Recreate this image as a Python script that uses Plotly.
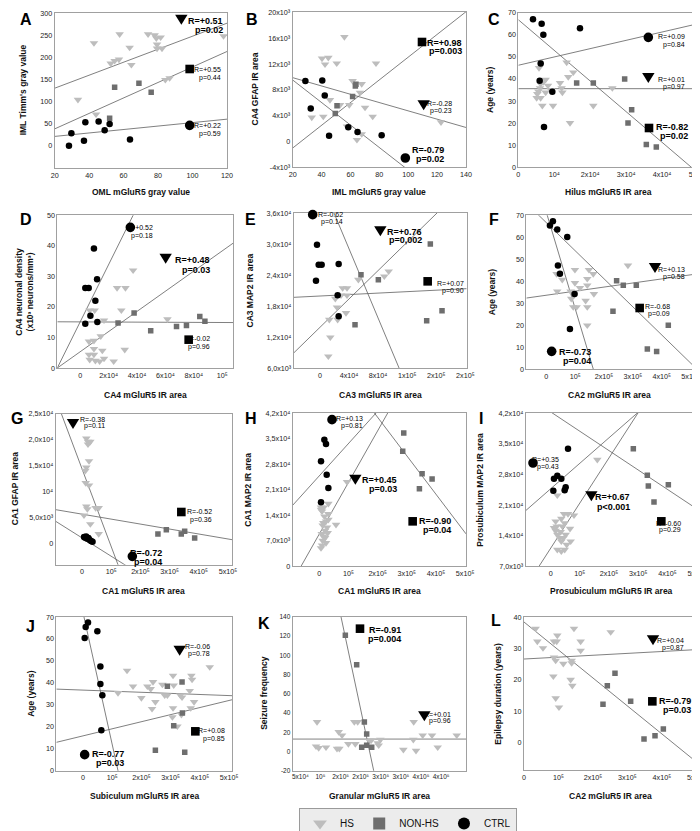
import plotly.graph_objects as go

W, H = 700, 831
FONT = "Arial, 'Liberation Sans', sans-serif"
C_HS, C_NH, C_CT = "#bdbdbd", "#6e6e6e", "#000000"
LINE_C = "#5f5f5f"

# ---------------- data ----------------
A_HS_X = [33.5, 42.8, 52.5, 54.8, 57.3, 57.7, 63.5, 64.5, 74.2, 78, 79, 79.4, 79.4, 81.5, 82.3, 84.2, 86.7, 44.0, 118]
A_HS_Y = [104, 232, 186, 192, 195, 252, 222, 183, 252, 250, 243, 229, 220, 245, 220, 149, 153, 71, 248]
A_NH_X = [54.8, 68.9, 76, 51.9]
A_NH_Y = [132, 141, 121, 62]
A_CT_X = [28.3, 29.7, 37.8, 37, 45.5, 49, 51.9, 63.7]
A_CT_Y = [0, 28, 53, 11, 55, 35, 49, 14]

B_HS_X = [55.8, 40.3, 44.7, 42.4, 50.5, 77.7, 61.5, 45.8, 59.2, 52.8, 66.6, 33.2, 41.2, 75.4, 70.1, 57.6, 64.5, 67.8, 122.7, 67.8]
B_HS_Y = [16200, 12870, 12980, 11950, 12100, 12100, 9360, 6420, 5650, 5650, 7560, 3690, 3840, 3840, 5240, 2300, 230, 1110, 2970, 8900]
B_NH_X = [49.5, 50.7, 61.5, 63.4, 63.8]
B_NH_Y = [4310, 5500, 6940, 8590, 8850]
B_CT_X = [28.8, 40.5, 42.2, 32.5, 45.2, 58.5, 64.9, 81.6]
B_CT_Y = [9360, 9420, 7090, 5080, 850, 2190, 1420, 950]

C_HS_X = [13450, 5750, 15300, 13900, 7600, 6960, 11600, 6200, 8250, 12050, 6030, 9000, 5570, 7600, 12250, 5290, 5100, 6200, 6680, 9650, 20870, 26160, 14380]
C_HS_Y = [47.5, 45, 43, 40.9, 39.7, 38.6, 38.2, 37.7, 37, 35.9, 35.9, 35.1, 34.4, 33.9, 33.9, 33.2, 31.4, 31.4, 27.9, 27.9, 27.9, 35.9, 20.1]
C_NH_X = [16230, 20870, 29590, 31540, 30520, 35620, 38400]
C_NH_Y = [38.2, 38.2, 40, 26.1, 20.1, 10.3, 9.2]
C_CT_X = [4080, 6490, 6960, 17160, 6220, 5940, 9460, 7140]
C_CT_Y = [67, 65, 60, 63, 47, 39.2, 34.2, 18.2]

D_HS_X = [37200, 31800, 25900, 28900, 6600, 10100, 16700, 31300, 61400, 14400, 6100, 9600, 6100, 9600, 9600, 15500, 6600, 10600, 13600, 16700, 23500]
D_HS_Y = [32, 26.2, 26.2, 18.9, 18.9, 18.9, 15.6, 6, 16, 10.4, 8.7, 8.95, 4.4, 4.4, 6.3, 5.7, 2.7, 2.4, 2.2, 3.1, 2.2]
D_NH_X = [37900, 26600, 49600, 67800, 74800, 84200, 87800]
D_NH_Y = [18, 14.7, 12.2, 13.6, 13.9, 16.9, 15.3]
D_CT_X = [3500, 5900, 9600, 11800, 10600, 7100, 3500, 12000]
D_CT_Y = [26.2, 26.2, 39.1, 29.1, 22, 17.1, 14.5, 15.1]

E_HS_X = [37200, 31200, 28900, 21100, 23400, 37200, 35800, 12800, 24300, 14200, 11500, 52800, 88500, 94500]
E_HS_Y = [21480, 21480, 20060, 19420, 17740, 20060, 16650, 15360, 15360, 11940, 8260, 23100, 23740, 24710]
E_NH_X = [56400, 80300, 48200, 151800, 146800, 167900]
E_NH_Y = [24060, 23100, 14390, 30000, 15160, 17100]
E_CT_X = [-4100, -1800, 2300, 25700, -5500, 24300, 25700]
E_CT_Y = [29870, 26000, 26000, 26130, 22900, 20060, 16000]

F_HS_X = [282900, 35800, 99300, 147800, 162800, 142000, 55400, 99300, 142000, 116600, 38000, 84300, 95800, 165000, 86600, 136300, 93500, 105000, 142000, 142000]
F_HS_Y = [47.2, 43.3, 45.2, 45.2, 43.3, 41.1, 40.7, 39.2, 38.1, 36.9, 35.4, 35.4, 33.6, 34.2, 32, 31.1, 28.2, 28.2, 28.2, 19.9]
F_NH_X = [243600, 266700, 311800, 231000, 422600, 350000, 382200]
F_NH_Y = [40.2, 38.1, 38.1, 26.3, 19.9, 9.1, 8.0]
F_CT_X = [12700, 23000, 38000, 72700, 40400, 47300, 98000, 82000]
F_CT_Y = [65.4, 67.3, 63.5, 60.1, 47.2, 43.4, 34.2, 18.2]

G_HS_X = [14800, 20500, 28500, 20500, 24000, 14800, 11400, 12600, 24000, 14800, 18300, 46800, 57100, 6800, 28500, 57100]
G_HS_Y = [20230, 19590, 19590, 19070, 15850, 14630, 13980, 11600, 11150, 7090, 6570, 6770, 6770, 5350, 3670, 1740]
G_NH_X = [260000, 288800, 340000, 351600, 385800]
G_NH_Y = [1740, 2580, 1740, 2260, 970]
G_CT_X = [7000, 11000, 14000, 18000, 22000, 26000, 31000, 36000]
G_CT_Y = [1150, 1000, 1250, 800, 950, 600, 400, 250]

H_HS_X = [95000, 30900, 5700, 14900, 9200, 30900, 13700, 22900, 30900, 11400, 57200, 19500, 13700, 22900, 11400, 5700, 9200, 17200, 26300, 8000, 19500, 5700, 28600]
H_HS_Y = [23100, 17170, 16160, 16160, 15070, 14340, 11870, 12330, 12790, 11230, 11420, 9770, 8220, 6390, 7030, 5020, 5750, 13700, 10690, 8860, 7760, 15530, 9130]
H_NH_X = [289500, 286000, 352400, 386700, 343200]
H_NH_Y = [36530, 31510, 25390, 23930, 21280]
H_CT_X = [17200, 22900, 5700, 25200, 30900, 5700]
H_CT_Y = [34700, 33520, 28770, 25110, 21460, 17530]

I_HS_X = [159800, 22800, 45700, 59400, 79900, 36500, 20500, 48000, 66200, 34200, 22800, 17100, 51400, 68500, 36500, 31900, 22800, 36500, 48000, 17100, 40000, 11400, 43400, 54800]
I_HS_Y = [31350, 23210, 18950, 18950, 18640, 17880, 16130, 16890, 15600, 14840, 14230, 15140, 14230, 12710, 12710, 13470, 10800, 10420, 10800, 17270, 16130, 15750, 13470, 11950]
I_NH_X = [283100, 331000, 334500, 403000, 353900]
I_NH_Y = [33860, 27770, 25340, 25640, 21690]
I_CT_X = [59400, 11400, 22800, 36500, 9100, 47900, 51400]
I_CT_Y = [33860, 27010, 27700, 27010, 24270, 24350, 25030]

J_HS_X = [150700, 119900, 171200, 199800, 220300, 231700, 239700, 236300, 247700, 271700, 279700, 288800, 308200, 310500, 308200, 306000, 323000, 333300, 336800, 339000, 365300, 368700, 371000, 373300, 380100, 433800]
J_HS_Y = [45.6, 35.4, 38.4, 33.1, 38.4, 37.2, 40.4, 28.2, 31.3, 39.2, 34.3, 34.3, 43.3, 38.9, 28.5, 24.4, 20.2, 34.3, 25.5, 33.4, 36.4, 28.5, 43.3, 41.5, 31.3, 47.2]
J_NH_X = [288800, 339000, 340200, 310500, 247700, 348200]
J_NH_Y = [38.4, 40.4, 26.3, 20.5, 9.3, 8.4]
J_CT_X = [5700, 9100, 17100, 49100, 59400, 59400, 66200, 62800]
J_CT_Y = [60.4, 65.4, 67.5, 63.5, 47.5, 39.5, 34.3, 18.4]

K_HS_X = [91500, 89000, 95600, 113800, 145400, 153700, 141200, 147000, 169400, 184300, 192600, 186800, 221600, 225800, 244900, 249000, 242400, 306200, 331900, 331000, 337700, 354300, 377500, 391600, 438900]
K_HS_Y = [30.7, 5.4, 3.6, 4.3, 20.3, 16.8, 2.9, 2.9, 7.8, 30.7, 30.7, 7.8, 11.3, 11.3, 6.4, 12.3, 8.8, 1.9, 30.7, 12.3, 0.8, 16.8, 16.8, 4.3, 16.8]
K_NH_X = [161900, 190100, 209200, 215000, 202600, 215000, 227500]
K_NH_Y = [120.9, 90.4, 30.7, 18.2, 4.3, 6.4, 4.3]

L_HS_X = [33800, 145000, 251500, 96700, 38700, 87000, 94800, 164400, 55100, 164400, 87000, 91900, 138300, 138300, 114100, 85100, 135400, 140200, 91900, 101500]
L_HS_Y = [36.3, 36.3, 35.2, 34.1, 32.2, 32.2, 32.2, 32.2, 30.1, 29.3, 27.1, 26.1, 26.1, 25.3, 25.1, 21.1, 20, 18.1, 14.1, 11.2]
L_NH_X = [264000, 241800, 229200, 309500, 404300, 380100, 348200]
L_NH_Y = [22.1, 18.1, 12.2, 13.1, 4.3, 2.1, 1.1]

# regression lines (slope, intercept)
A_FITS = [("HS", 1.47, 100.6), ("NH", 1.75, 3.0), ("CT", 0.39, 13.2)]
B_FITS = [("NH", 176.5, -4588), ("HS", -64.5, 11171), ("CT", -174.9, 13018)]
C_FITS = [("CT", 3.76e-4, 46.2), ("HS", 0.0, 35.6), ("NH", -1.387e-3, 66.8)]
D_FITS = [("CT", 9.36e-4, 15.2), ("HS", 3.30e-4, 5.35), ("NH", -2e-6, 15.1)]
E_FITS = [("CT", -0.3352, 42469), ("HS", 0.1374, 13877), ("NH", 7.05e-3, 19932)]
F_FITS = [("HS", 1.86e-5, 33.6), ("NH", -1.28e-4, 66.7), ("CT", -4.394e-4, 71.5)]
G_FITS = [("HS", -0.1504, 14352), ("NH", -9.6e-3, 5577), ("CT", -0.0355, 993)]
H_FITS = [("CT", 0.08842, 24803), ("HS", 0.1412, 8881), ("NH", -0.10535, 61890)]
I_FITS = [("CT", 0.0583, 24697), ("HS", 0.10324, 11130), ("NH", -0.04423, 42252)]
J_FITS = [("CT", -6.009e-4, 72.0), ("HS", -5e-6, 36.7), ("NH", 3.226e-5, 15.85)]
K_FITS = [("NH", -1.970e-3, 437.9), ("HS", 0.0, 12.9)]
L_FITS = [("HS", 5.99e-6, 26.6), ("NH", -8.922e-5, 38.4)]

# correlation labels: (symbol, R text, p text, bold)
A_STATS = [("tri", "R=+0.51", "p=0.02", True), ("sq", "R=+0.55", "p=0.44", False), ("circ", "R=+0.22", "p=0.59", False)]
B_STATS = [("sq", "R=+0.98", "p=0.003", True), ("tri", "R=-0.28", "p=0.23", False), ("circ", "R=-0.79", "p=0.02", True)]
C_STATS = [("circ", "R=+0.09", "p=0.84", False), ("tri", "R=+0.01", "p=0.97", False), ("sq", "R=-0.82", "p=0.02", True)]
D_STATS = [("circ", "R=+0.52", "p=0.18", False), ("tri", "R=+0.48", "p=0.03", True), ("sq", "R=-0.02", "p=0.96", False)]
E_STATS = [("circ", "R=-0.62", "p=0.14", False), ("tri", "R=+0.76", "p=0,002", True), ("sq", "R=+0.07", "p=0.90", False)]
F_STATS = [("tri", "R=+0.13", "p=0.58", False), ("sq", "R=-0.68", "p=0.09", False), ("circ", "R=-0.73", "p=0.04", True)]
G_STATS = [("tri", "R=-0.38", "p=0.11", False), ("sq", "R=-0.52", "p=0.36", False), ("circ", "R=-0.72", "p=0.04", True)]
H_STATS = [("circ", "R=+0.13", "p=0.81", False), ("tri", "R=+0.45", "p=0.03", True), ("sq", "R=-0.90", "p=0.04", True)]
I_STATS = [("circ", "R=+0.35", "p=0.43", False), ("tri", "R=+0.67", "p<0.001", True), ("sq", "R=-0.60", "p=0.29", False)]
J_STATS = [("tri", "R=-0.06", "p=0.78", False), ("sq", "R=+0.08", "p=0.85", False), ("circ", "R=-0.77", "p=0.03", True)]
K_STATS = [("sq", "R=-0.91", "p=0.004", True), ("tri", "R=+0.01", "p=0.96", False)]
L_STATS = [("tri", "R=+0.04", "p=0.87", False), ("sq", "R=-0.79", "p=0.03", True)]

T5 = ["0", "10⁵", "2x10⁵", "3x10⁵", "4x10⁵", "5x10⁵"]
V5 = [0, 1e5, 2e5, 3e5, 4e5, 5e5]

# ---------------- layout geometry (pixel positions of panels) ----------------
PANELS = [
    dict(L="A", off=(0, 0), box=(140, 657, 14, 480), xr=[20, 120], yr=[-50.4, 300.8],
         xt=[20, 40, 60, 80, 100, 120], xtl=None, yt=[0, 50, 100, 150, 200, 250, 300], ytl=None,
         xtitle="OML mGluR5 gray value", ytitle="IML Timm's gray value", ytx=15, lp=(18, 11),
         data=[("HS", A_HS_X, A_HS_Y), ("NH", A_NH_X, A_NH_Y), ("CT", A_CT_X, A_CT_Y)], fits=A_FITS,
         stats=A_STATS, keypos=[(520, 35, 650, 40, 65), (545, 183, 645, 185, 210), (545, 352, 645, 352, 378)]),
    dict(L="B", off=(233, 0), box=(155, 675, 12, 477), xr=[20, 140], yr=[-4000, 20080],
         xt=[20, 40, 60, 80, 100, 120, 140], xtl=None, yt=[-4000, 0, 4000, 8000, 12000, 16000, 20000],
         ytl=["-4x10³", "0", "4x10³", "8x10³", "12x10³", "16x10³", "20x10³"],
         xtitle="IML mGluR5 gray value", ytitle="CA4 GFAP IR area", ytx=247, lp=(244, 11),
         data=[("HS", B_HS_X, B_HS_Y), ("NH", B_NH_X, B_NH_Y), ("CT", B_CT_X, B_CT_Y)], fits=B_FITS,
         stats=B_STATS, keypos=[(543, 102, 670, 105, 130), (548, 292, 640, 285, 308), (493, 450, 615, 425, 452)]),
    dict(L="C", off=(466, 0), box=(133, 672, 14, 478), xr=[0, 50000], yr=[0, 70],
         xt=[0, 1e4, 2e4, 3e4, 4e4, 5e4], xtl=["0", "10⁴", "2x10⁴", "3x10⁴", "4x10⁴", "5x10⁴"],
         yt=[0, 10, 20, 30, 40, 50, 60, 70], ytl=None,
         xtitle="Hilus mGluR5 IR area", ytitle="Age (years)", ytx=482, lp=(486, 11),
         data=[("HS", C_HS_X, C_HS_Y), ("NH", C_NH_X, C_NH_Y), ("CT", C_CT_X, C_CT_Y)], fits=C_FITS,
         stats=C_STATS, keypos=[(523, 88, 640, 85, 110), (523, 210, 638, 213, 238), (525, 360, 648, 358, 383)]),
    dict(L="D", off=(0, 200), box=(148, 675, 22, 480), xr=[-16200, 107600], yr=[0, 50],
         xt=[0, 2e4, 4e4, 6e4, 8e4, 1e5], xtl=["0", "2x10⁴", "4x10⁴", "6x10⁴", "8x10⁴", "10⁵"],
         yt=[0, 10, 20, 30, 40, 50], ytl=None,
         xtitle="CA4 mGluR5 IR area", ytitle="CA4 neuronal density<br>(x10³ neurons/mm³)", ytx=17, lp=(18, 211),
         data=[("HS", D_HS_X, D_HS_Y), ("NH", D_NH_X, D_NH_Y), ("CT", D_CT_X, D_CT_Y)], fits=D_FITS,
         stats=D_STATS, keypos=[(367, 58, 440, 58, 83), (473, 152, 612, 155, 185), (542, 395, 612, 392, 417)]),
    dict(L="E", off=(233, 200), box=(158, 677, 15, 480), xr=[-36200, 201800], yr=[6000, 36000],
         xt=[0, 4e4, 8e4, 1.2e5, 1.6e5, 2e5], xtl=["0", "4x10⁴", "8x10⁴", "1x10⁵", "2x10⁵", "2x10⁵"],
         yt=[6000, 12000, 18000, 24000, 30000, 36000],
         ytl=["6,0x10³", "1,2x10⁴", "1,8x10⁴", "2,4x10⁴", "3,0x10⁴", "3,6x10⁴"],
         xtitle="CA3 mGluR5 IR area", ytitle="CA3 MAP2 IR area", ytx=241, lp=(242, 211),
         data=[("HS", E_HS_X, E_HS_Y), ("NH", E_NH_X, E_NH_Y), ("CT", E_CT_X, E_CT_Y)], fits=E_FITS,
         stats=E_STATS, keypos=[(215, 20, 312, 20, 43), (418, 70, 550, 72, 97), (560, 220, 675, 225, 248)]),
    dict(L="F", off=(466, 200), box=(157, 655, 22, 483), xr=[-69000, 505800], yr=[0, 70],
         xt=V5, xtl=T5, yt=[0, 10, 20, 30, 40, 50, 60, 70], ytl=None,
         xtitle="CA2 mGluR5 IR area", ytitle="Age (years)", ytx=484, lp=(486, 211),
         data=[("HS", F_HS_X, F_HS_Y), ("NH", F_NH_X, F_NH_Y), ("CT", F_CT_X, F_CT_Y)], fits=F_FITS,
         stats=F_STATS, keypos=[(543, 180, 640, 183, 208), (497, 300, 595, 295, 318), (233, 430, 358, 433, 460)]),
    dict(L="G", off=(0, 400), box=(143, 672, 17, 470), xr=[-90200, 513700], yr=[-4188, 25000],
         xt=V5, xtl=T5, yt=[0, 5000, 10000, 15000, 20000, 25000],
         ytl=["0", "5,0x10³", "10⁴", "1,5x10⁴", "2,0x10⁴", "2,5x10⁴"],
         xtitle="CA1 mGluR5 IR area", ytitle="CA1 GFAP IR area", ytx=7, lp=(9, 411),
         data=[("HS", G_HS_X, G_HS_Y), ("NH", G_NH_X, G_NH_Y), ("CT", G_CT_X, G_CT_Y)], fits=G_FITS,
         stats=G_STATS, keypos=[(195, 48, 297, 35, 55), (520, 312, 618, 312, 335), (373, 445, 467, 435, 462)]),
    dict(L="H", off=(233, 400), box=(155, 675, 15, 475), xr=[-91500, 503000], yr=[0, 42000],
         xt=V5, xtl=T5, yt=[0, 7000, 14000, 21000, 28000, 35000, 42000],
         ytl=["0", "7,0x10³", "1,4x10⁴", "2,1x10⁴", "2,8x10⁴", "3,5x10⁴", "4,2x10⁴"],
         xtitle="CA1 mGluR5 IR area", ytitle="CA1 MAP2 IR area", ytx=240, lp=(243, 411),
         data=[("HS", H_HS_X, H_HS_Y), ("NH", H_NH_X, H_NH_Y), ("CT", H_CT_X, H_CT_Y)], fits=H_FITS,
         stats=H_STATS, keypos=[(273, 35, 372, 33, 55), (343, 215, 473, 215, 242), (515, 340, 637, 340, 367)]),
    dict(L="I", off=(466, 400), box=(155, 672, 15, 475), xr=[-85600, 504600], yr=[7000, 42000],
         xt=V5, xtl=T5, yt=[7000, 14000, 21000, 28000, 35000, 42000],
         ytl=["7,0x10³", "1,4x10⁴", "2,1x10⁴", "2,8x10⁴", "3,5x10⁴", "4,2x10⁴"],
         xtitle="Prosubiculum mGluR5 IR area", ytitle="Prosubiculum MAP2 IR area", ytx=472, lp=(473, 411),
         data=[("HS", I_HS_X, I_HS_Y), ("NH", I_NH_X, I_NH_Y), ("CT", I_CT_X, I_CT_Y)], fits=I_FITS,
         stats=I_STATS, keypos=[(177, 165, 260, 155, 177), (352, 265, 475, 268, 297), (562, 340, 628, 345, 365)]),
    dict(L="J", off=(0, 600), box=(145, 672, 27, 488), xr=[-91300, 510000], yr=[0, 70],
         xt=V5, xtl=T5, yt=[0, 10, 20, 30, 40, 50, 60, 70], ytl=None,
         xtitle="Subiculum mGluR5 IR area", ytitle="Age (years)", ytx=23, lp=(22, 618),
         data=[("HS", J_HS_X, J_HS_Y), ("NH", J_NH_X, J_NH_Y), ("CT", J_CT_X, J_CT_Y)], fits=J_FITS,
         stats=J_STATS, keypos=[(515, 128, 612, 115, 137), (562, 370, 658, 368, 392), (230, 440, 355, 437, 465)]),
    dict(L="K", off=(233, 600), box=(155, 675, 27, 488), xr=[30900, 462000], yr=[-20, 140],
         xt=[5e4, 1e5, 1.5e5, 2e5, 2.5e5, 3e5, 3.5e5, 4e5],
         xtl=["5x10⁴", "10⁵", "2x10⁵", "2x10⁵", "3x10⁵", "3x10⁵", "4x10⁵", "4x10⁵"],
         yt=[-20, 0, 20, 40, 60, 80, 100, 120, 140], ytl=None,
         xtitle="Granular mGluR5 IR area", ytitle="Seizure frequency", ytx=256, lp=(256, 615),
         data=[("HS", K_HS_X, K_HS_Y), ("NH", K_NH_X, K_NH_Y)], fits=K_FITS,
         stats=K_STATS, keypos=[(357, 62, 487, 65, 93), (550, 325, 637, 320, 340)]),
    dict(L="L", off=(466, 600), box=(150, 668, 27, 487), xr=[0, 501000], yr=[-8.9, 40],
         xt=V5, xtl=T5, yt=[0, 10, 20, 30, 40], ytl=None,
         xtitle="CA2 mGluR5 IR area", ytitle="Epilepsy duration (years)", ytx=490, lp=(488, 612),
         data=[("HS", L_HS_X, L_HS_Y), ("NH", L_NH_X, L_NH_Y)], fits=L_FITS,
         stats=L_STATS, keypos=[(537, 97, 635, 97, 120), (535, 280, 658, 280, 307)]),
]
XTITLE_Y = [184, 387, 583, 788]

NAMES = {"HS": "HS", "NH": "NON-HS", "CT": "CTRL"}
MARK = {
    "HS": dict(symbol="triangle-down", size=7.5, color=C_HS),
    "NH": dict(symbol="square", size=5.5, color=C_NH),
    "CT": dict(symbol="circle", size=6.5, color=C_CT),
}


def fx(px):
    return px / W


def fy(py):
    return 1 - py / H


fig = go.Figure()
shapes, annots = [], []
layout = {}

for i, p in enumerate(PANELS, start=1):
    sfx = "" if i == 1 else str(i)
    xa, ya = "x" + sfx, "y" + sfx
    ox, oy = p["off"]
    l, r, t, b = p["box"]
    L_, R_, T_, B_ = ox + l / 3, ox + r / 3, oy + t / 3, oy + b / 3
    x0, x1 = p["xr"]
    for g, slope, icpt in p["fits"]:
        fig.add_trace(go.Scatter(x=[x0, x1], y=[slope * x0 + icpt, slope * x1 + icpt], mode="lines",
                                 line=dict(color=LINE_C, width=0.8), showlegend=False, hoverinfo="skip",
                                 xaxis=xa, yaxis=ya))
    for g, xs, ys in p["data"]:
        fig.add_trace(go.Scatter(x=xs, y=ys, mode="markers", marker=dict(**MARK[g], line=dict(width=0)),
                                 name=NAMES[g], legendgroup=g, showlegend=(i == 1), xaxis=xa, yaxis=ya))
    tick_size = 6.5 if p["L"] == "K" else 7.2
    axis_common = dict(showline=True, mirror=True, linecolor="#a0a0a0", linewidth=1, showgrid=False,
                       zeroline=False, ticks="", automargin=False, fixedrange=True,
                       ticklabeloverflow="allow", tickangle=0,
                       tickfont=dict(size=tick_size, family=FONT, color="#222222"))
    xaxis = dict(domain=[fx(L_), fx(R_)], range=p["xr"], anchor=ya, tickvals=p["xt"],
                 ticktext=p["xtl"] if p["xtl"] else [str(v) for v in p["xt"]], **axis_common)
    yaxis = dict(domain=[fy(B_), fy(T_)], range=p["yr"], anchor=xa, tickvals=p["yt"],
                 ticktext=p["ytl"] if p["ytl"] else [str(v) for v in p["yt"]], **axis_common)
    layout["xaxis" + sfx] = xaxis
    layout["yaxis" + sfx] = yaxis

    row = (i - 1) // 3
    annots.append(dict(text="<b>" + p["xtitle"] + "</b>", x=fx((L_ + R_) / 2), y=fy(XTITLE_Y[row]),
                       xref="paper", yref="paper", showarrow=False, xanchor="center", yanchor="middle",
                       font=dict(size=8.5, family=FONT, color="#111")))
    annots.append(dict(text="<b>" + p["ytitle"] + "</b>", x=fx(p["ytx"]), y=fy((T_ + B_) / 2),
                       xref="paper", yref="paper", showarrow=False, xanchor="center", yanchor="middle",
                       textangle=-90, font=dict(size=8.5, family=FONT, color="#111")))
    annots.append(dict(text="<b>" + p["L"] + "</b>", x=fx(p["lp"][0]), y=fy(p["lp"][1]),
                       xref="paper", yref="paper", showarrow=False, xanchor="center", yanchor="middle",
                       font=dict(size=16, family=FONT, color="#000")))
    for (sym, rt, pt, bold), (mx, my, rx, ry, py) in zip(p["stats"], p["keypos"]):
        cx, cy = ox + mx / 3, oy + my / 3
        if sym == "circ":
            rad = 4.8
            shapes.append(dict(type="circle", xref="paper", yref="paper", x0=fx(cx - rad), x1=fx(cx + rad),
                               y0=fy(cy + rad), y1=fy(cy - rad), fillcolor="#000", line=dict(width=0)))
        elif sym == "sq":
            hs = 4.3
            shapes.append(dict(type="rect", xref="paper", yref="paper", x0=fx(cx - hs), x1=fx(cx + hs),
                               y0=fy(cy + hs), y1=fy(cy - hs), fillcolor="#000", line=dict(width=0)))
        else:
            hw, hh = 6.2, 5.0
            path = "M {:.5f},{:.5f} L {:.5f},{:.5f} L {:.5f},{:.5f} Z".format(
                fx(cx - hw), fy(cy - hh), fx(cx + hw), fy(cy - hh), fx(cx), fy(cy + hh))
            shapes.append(dict(type="path", xref="paper", yref="paper", path=path,
                               fillcolor="#000", line=dict(width=0)))
        size = 9 if bold else 7
        for txt, yy in ((rt, ry), (pt, py)):
            annots.append(dict(text=("<b>" + txt + "</b>") if bold else txt,
                               x=fx(ox + rx / 3), y=fy(oy + yy / 3), xref="paper", yref="paper",
                               showarrow=False, xanchor="right", yanchor="middle",
                               font=dict(size=size, family=FONT, color="#000")))

fig.update_layout(
    width=W, height=H, margin=dict(l=0, r=0, t=0, b=0), template="none",
    paper_bgcolor="white", plot_bgcolor="white",
    showlegend=True,
    legend=dict(orientation="h", x=fx(400), xanchor="center", y=0, yanchor="bottom",
                bgcolor="#ececec", bordercolor="#9a9a9a", borderwidth=1,
                font=dict(size=10, family=FONT, color="#111"), itemsizing="constant",
                traceorder="normal", itemwidth=30),
    shapes=shapes, annotations=annots, **layout,
)

fig.write_html("out.html")
